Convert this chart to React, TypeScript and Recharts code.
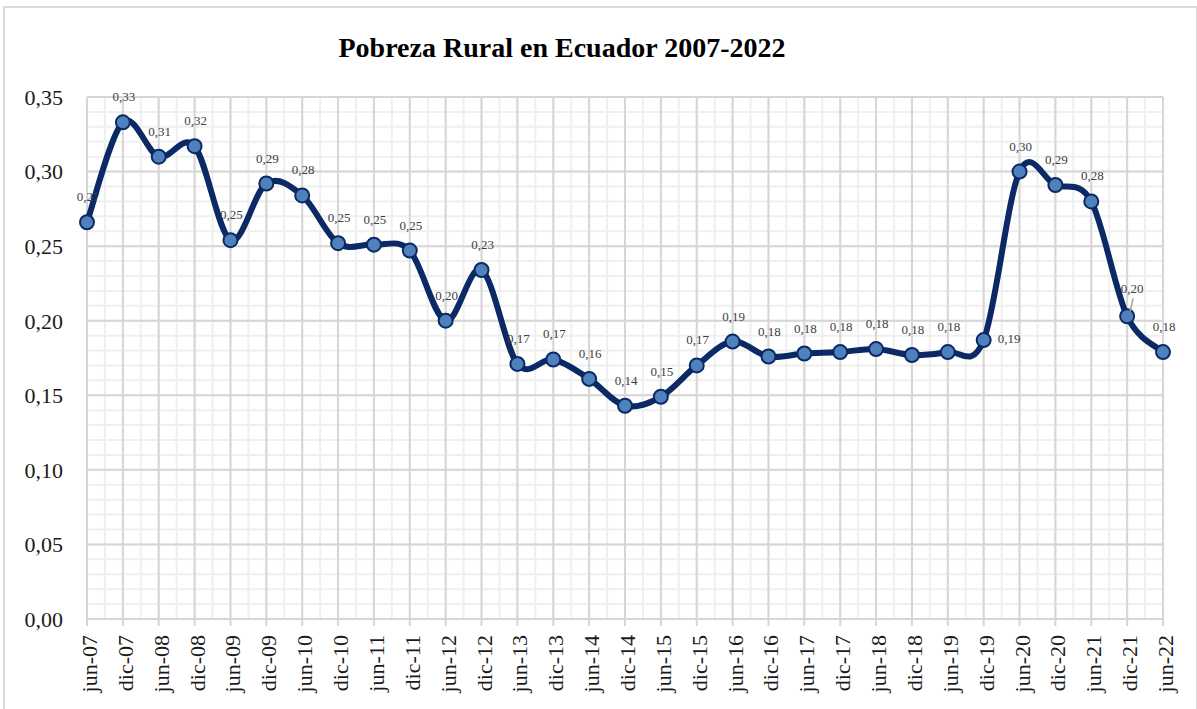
import * as React from 'react'
import { LineChart, Line, XAxis, YAxis, CartesianGrid, LabelList } from 'recharts'

const periodos = [
  'jun-07', 'dic-07', 'jun-08', 'dic-08', 'jun-09', 'dic-09', 'jun-10', 'dic-10',
  'jun-11', 'dic-11', 'jun-12', 'dic-12', 'jun-13', 'dic-13', 'jun-14', 'dic-14',
  'jun-15', 'dic-15', 'jun-16', 'dic-16', 'jun-17', 'dic-17', 'jun-18', 'dic-18',
  'jun-19', 'dic-19', 'jun-20', 'dic-20', 'jun-21', 'dic-21', 'jun-22',
]

const pobrezaRural = [
  0.266, 0.333, 0.31, 0.317, 0.254, 0.292, 0.284, 0.252,
  0.251, 0.247, 0.2, 0.234, 0.171, 0.174, 0.161, 0.143,
  0.149, 0.17, 0.186, 0.176, 0.178, 0.179, 0.181, 0.177,
  0.179, 0.187, 0.3, 0.291, 0.28, 0.203, 0.179,
]

const yTicks = [0, 0.05, 0.1, 0.15, 0.2, 0.25, 0.3, 0.35]

const data = periodos.map((periodo, i) => ({ periodo, valor: pobrezaRural[i] }))

const SERIF = '"Liberation Serif", "Times New Roman", serif'
const NAVY = '#0b2965'

const fmt = (v: number) => v.toFixed(2).replace('.', ',')

// excel-style smoothing (catmull-rom through every point)
function excelCurve(context: any) {
  let pts: [number, number][] = []
  return {
    areaStart() {},
    areaEnd() {},
    lineStart() {
      pts = []
    },
    lineEnd() {
      if (!pts.length) return
      context.moveTo(pts[0][0], pts[0][1])
      for (let i = 0; i < pts.length - 1; i++) {
        const p0 = pts[i - 1] || pts[i]
        const p1 = pts[i]
        const p2 = pts[i + 1]
        const p3 = pts[i + 2] || p2
        context.bezierCurveTo(
          p1[0] + (p2[0] - p0[0]) / 6,
          p1[1] + (p2[1] - p0[1]) / 6,
          p2[0] - (p3[0] - p1[0]) / 6,
          p2[1] - (p3[1] - p1[1]) / 6,
          p2[0],
          p2[1],
        )
      }
    },
    point(x: number, y: number) {
      pts.push([x, y])
    },
  }
}

function XTick({ x, y, payload }: any) {
  return (
    <text
      transform={`translate(${x + 10},${y + 7}) rotate(-90)`}
      textAnchor="end"
      fontFamily={SERIF}
      fontSize={22}
      fill="#1a1a1a"
    >
      {payload.value}
    </text>
  )
}

function ValueLabel({ x, y, value, index }: any) {
  const style = { fontFamily: SERIF, fontSize: 13, fill: '#404040' }
  if (index === 25) {
    return (
      <text x={x + 14} y={y + 3} textAnchor="start" {...style}>
        {fmt(value)}
      </text>
    )
  }
  if (index === 29) {
    return (
      <g>
        <line x1={x + 3} y1={y - 5} x2={x + 6} y2={y - 18} stroke="#a6a6a6" strokeWidth={1.5} />
        <text x={x + 5} y={y - 23} textAnchor="middle" {...style}>
          {fmt(value)}
        </text>
      </g>
    )
  }
  return (
    <text x={x + 1} y={y - 21} textAnchor="middle" {...style}>
      {fmt(value)}
    </text>
  )
}

export default function App() {
  return (
    <div
      style={{
        position: 'absolute',
        left: 0,
        top: 0,
        width: 1197,
        height: 709,
        overflow: 'hidden',
        background: '#fff',
      }}
    >
      <div
        style={{
          position: 'absolute',
          left: 3,
          top: 6,
          width: 1191,
          height: 720,
          border: '2px solid #d9d9d9',
        }}
      />
      <div
        style={{
          position: 'absolute',
          left: 0,
          top: 34,
          width: 1124,
          textAlign: 'center',
          fontFamily: SERIF,
          fontWeight: 'bold',
          fontSize: 28,
          lineHeight: '28px',
          color: '#000',
        }}
      >
        Pobreza Rural en Ecuador 2007-2022
      </div>
      <div style={{ position: 'absolute', left: 0, top: 0 }}>
        <LineChart width={1197} height={709} data={data} margin={{ top: 97, right: 34, left: 0, bottom: 0 }}>
          <CartesianGrid
            stroke="#efefef"
            strokeWidth={2}
            horizontalCoordinatesGenerator={({ offset }: any) =>
              Array.from({ length: 36 }, (_, i) => offset.top + (offset.height * i) / 35)
            }
            verticalCoordinatesGenerator={({ offset }: any) =>
              Array.from({ length: 61 }, (_, i) => offset.left + (offset.width * i) / 60)
            }
          />
          <CartesianGrid stroke="#d6d6d6" strokeWidth={2} />
          <XAxis
            dataKey="periodo"
            interval={0}
            height={90}
            tick={<XTick />}
            tickSize={7}
            tickLine={{ stroke: '#d6d6d6', strokeWidth: 2 }}
            axisLine={{ stroke: '#d6d6d6', strokeWidth: 2 }}
          />
          <YAxis
            domain={[0, 0.35]}
            ticks={yTicks}
            width={87}
            axisLine={false}
            tickLine={false}
            tickMargin={18}
            tickFormatter={fmt}
            tick={{ fontFamily: SERIF, fontSize: 22, fill: '#1a1a1a' }}
          />
          <Line
            dataKey="valor"
            type={excelCurve as any}
            stroke={NAVY}
            strokeWidth={6}
            dot={{ r: 7, fill: '#4f81bd', stroke: NAVY, strokeWidth: 2 }}
            activeDot={false}
            isAnimationActive={false}
          >
            <LabelList dataKey="valor" content={<ValueLabel />} />
          </Line>
        </LineChart>
      </div>
    </div>
  )
}
